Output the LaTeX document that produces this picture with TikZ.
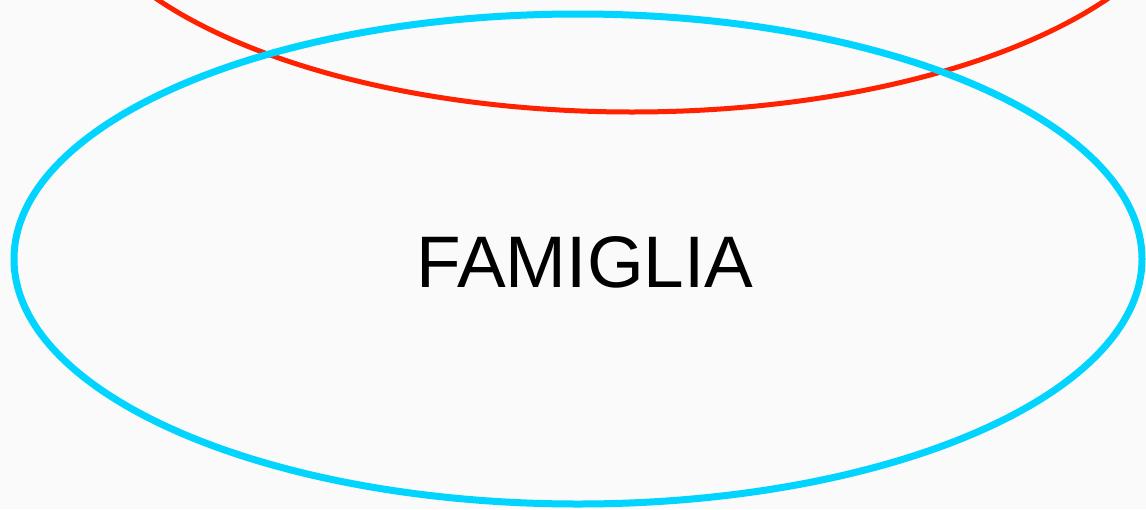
\documentclass[tikz,border=0pt]{standalone}
\usepackage{fontspec}
\setmainfont{Liberation Sans}
\usetikzlibrary{shapes.geometric}
\definecolor{bgc}{HTML}{FAFAFA}
\definecolor{redline}{HTML}{FF2200}
\definecolor{cyanline}{HTML}{00D4FF}
\tikzset{
  ring/.style={ellipse, draw, inner sep=0pt, minimum width=1128pt, minimum height=490pt},
  label/.style={font=\fontsize{73}{80}\selectfont, text=black, inner sep=0pt}
}
\begin{document}
\begin{tikzpicture}[x=1pt,y=-1pt]
\fill[bgc] (0,0) rectangle (1146,509);
\useasboundingbox (0,0) rectangle (1146,509);
\begin{scope}
\clip (0,0) rectangle (1146,509);
\node[ring, draw=redline, line width=5pt] (red) at (632,-133) {};
\node[ring, draw=cyanline, line width=7pt] (fam) at (578,259) {};
\end{scope}
\node[label, anchor=base] (txt) at (585,287) {FAMIGLIA};
\end{tikzpicture}
\end{document}
